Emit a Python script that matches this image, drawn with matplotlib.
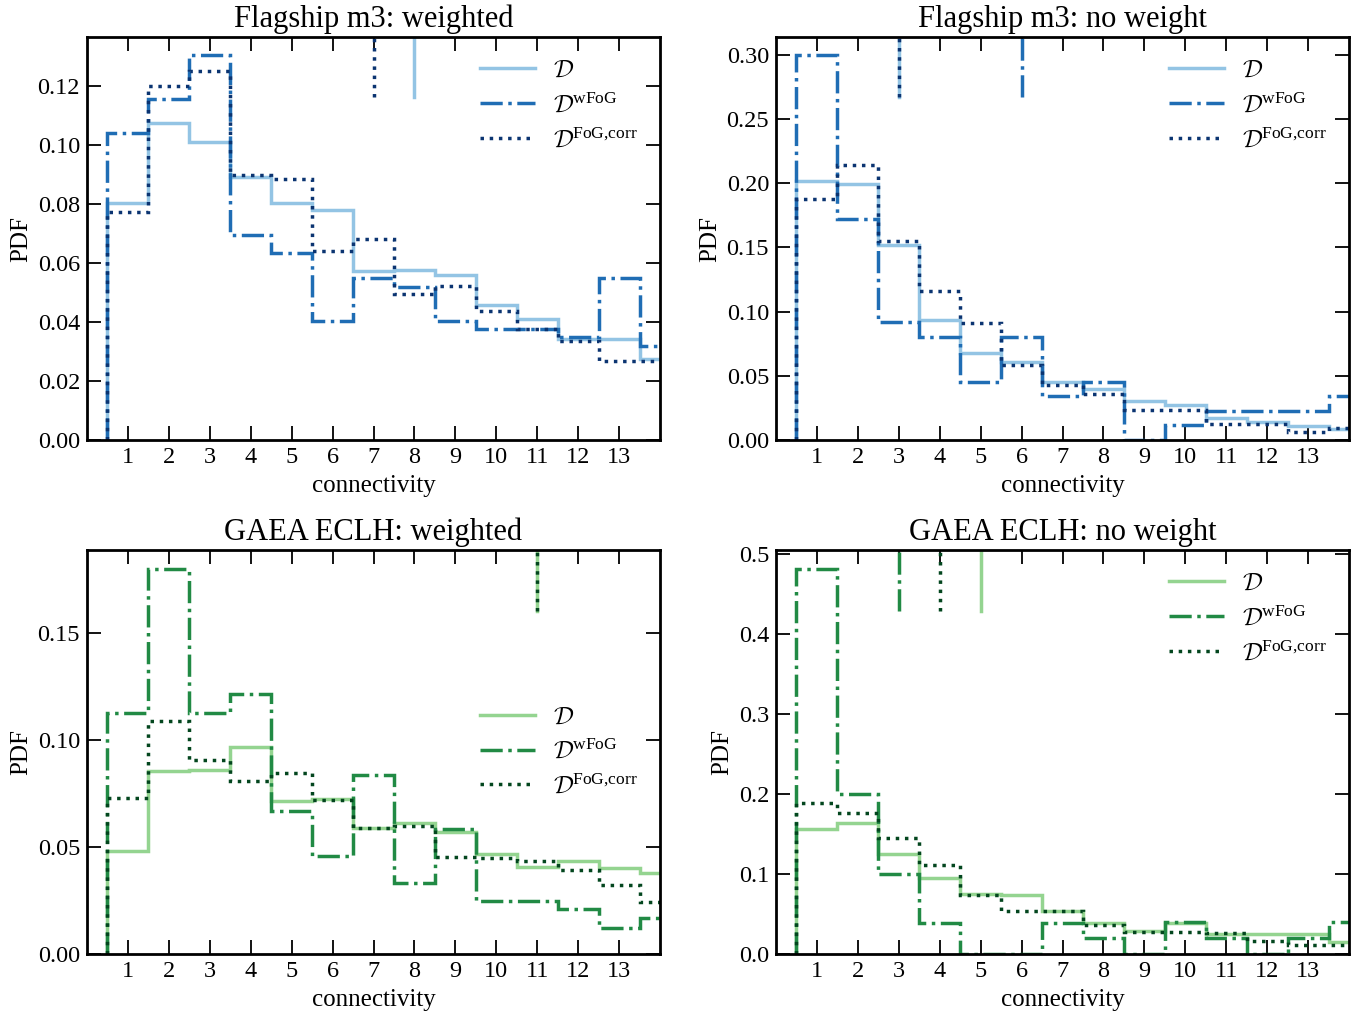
import matplotlib
matplotlib.use('Agg')
import matplotlib.pyplot as plt
from matplotlib.lines import Line2D
import numpy as np

plt.rcParams['font.family'] = 'serif'
plt.rcParams['font.serif'] = ['Liberation Serif', 'DejaVu Serif']
plt.rcParams['mathtext.fontset'] = 'custom'
plt.rcParams['mathtext.rm'] = 'Liberation Serif'
plt.rcParams['mathtext.it'] = 'Liberation Serif:italic'
plt.rcParams['mathtext.cal'] = 'cmsy10'

# bin centres (connectivity) and histogram values
conn = np.arange(1, 15)
edges = np.arange(0.5, 15.5, 1.0)

# Flagship m3: weighted
fs_w_D = [0.0802, 0.1076, 0.1011, 0.0893, 0.0802, 0.0780, 0.0574,
          0.0576, 0.0558, 0.0459, 0.0411, 0.0343, 0.0341, 0.0276]
fs_w_wfog = [0.1040, 0.1157, 0.1305, 0.0695, 0.0635, 0.0403, 0.0548,
             0.0520, 0.0403, 0.0375, 0.0375, 0.0348, 0.0548, 0.0319]
fs_w_corr = [0.0774, 0.1200, 0.1252, 0.0897, 0.0886, 0.0642, 0.0680,
             0.0495, 0.0522, 0.0437, 0.0375, 0.0337, 0.0268, 0.0269]

# Flagship m3: no weight
fs_n_D = [0.2021, 0.1995, 0.1517, 0.0935, 0.0675, 0.0610, 0.0455,
          0.0395, 0.0301, 0.0275, 0.0171, 0.0143, 0.0109, 0.0088]
fs_n_wfog = [0.3000, 0.1722, 0.0917, 0.0803, 0.0455, 0.0803, 0.0340,
             0.0455, 0.0, 0.0115, 0.0229, 0.0229, 0.0229, 0.0340]
fs_n_corr = [0.1878, 0.2143, 0.1548, 0.1161, 0.0909, 0.0584, 0.0429,
             0.0356, 0.0234, 0.0234, 0.0125, 0.0125, 0.0065, 0.0090]

# GAEA ECLH: weighted
ga_w_D = [0.0483, 0.0855, 0.0861, 0.0969, 0.0717, 0.0727, 0.0589,
          0.0611, 0.0573, 0.0467, 0.0409, 0.0437, 0.0402, 0.0378]
ga_w_wfog = [0.1128, 0.1803, 0.1128, 0.1214, 0.0670, 0.0458, 0.0839,
             0.0331, 0.0584, 0.0248, 0.0248, 0.0209, 0.0123, 0.0167]
ga_w_corr = [0.0730, 0.1089, 0.0909, 0.0811, 0.0845, 0.0722, 0.0589,
             0.0597, 0.0453, 0.0448, 0.0433, 0.0394, 0.0323, 0.0241]

# GAEA ECLH: no weight
ga_n_D = [0.1563, 0.1633, 0.1246, 0.0946, 0.0746, 0.0738, 0.0538,
          0.0392, 0.0288, 0.0383, 0.0246, 0.0246, 0.0246, 0.0146]
ga_n_wfog = [0.4808, 0.2000, 0.0996, 0.0392, 0.0, 0.0, 0.0392,
             0.0196, 0.0, 0.0396, 0.0196, 0.0, 0.0196, 0.0396]
ga_n_corr = [0.1892, 0.1758, 0.1454, 0.1113, 0.0738, 0.0542, 0.0542,
             0.0363, 0.0271, 0.0271, 0.0260, 0.0163, 0.0113, 0.0113]

# short markers at the top of each panel (D, wFoG, FoG corr); None = not shown
marks = [
    [8, None, 7],
    [3, 6, 3],
    [11, None, 11],
    [5, 3, 4],
]

titles = ['Flagship m3: weighted', 'Flagship m3: no weight',
          'GAEA ECLH: weighted', 'GAEA ECLH: no weight']
data = [
    (fs_w_D, fs_w_wfog, fs_w_corr),
    (fs_n_D, fs_n_wfog, fs_n_corr),
    (ga_w_D, ga_w_wfog, ga_w_corr),
    (ga_n_D, ga_n_wfog, ga_n_corr),
]
blues = ['#93c4e4', '#1f6db4', '#0b3471']
greens = ['#94d490', '#218a44', '#03461e']
palettes = [blues, blues, greens, greens]
styles = ['-', '-.', ':']
labels = [r'$\mathcal{D}$', r'$\mathcal{D}^{\rm wFoG}$', r'$\mathcal{D}^{\rm FoG{,}corr}$']
ylims = [0.1366, 0.314, 0.189, 0.505]
yticks = [np.arange(0, 0.13, 0.02), np.arange(0, 0.31, 0.05),
          np.arange(0, 0.16, 0.05), np.arange(0, 0.51, 0.1)]
yfmt = ['%.2f', '%.2f', '%.2f', '%.1f']
legend_loc = ['upper right', 'upper right', 'center right', 'upper right']

fig = plt.figure(figsize=(13.68, 10.14), dpi=100)
W, H = 1368, 1014
boxes = [(87, 37, 660, 440), (776, 37, 1349, 440),
         (87, 550, 660, 954), (776, 550, 1349, 954)]

for i in range(4):
    l, t, r, b = boxes[i]
    ax = fig.add_axes([l / W, 1 - b / H, (r - l) / W, (b - t) / H])
    cols = palettes[i]
    handles = []
    for j in range(3):
        ax.hist(conn, bins=edges, weights=data[i][j], histtype='step',
                color=cols[j], ls=styles[j], lw=2.5)
        handles.append(Line2D([], [], color=cols[j], ls=styles[j], lw=2.5,
                              label=labels[j]))
    for j in range(3):
        if marks[i][j] is not None:
            ax.axvline(marks[i][j], ymin=0.85, ymax=1, color=cols[j],
                       ls=styles[j], lw=2.5)
    ax.set_xlim(0, 14)
    ax.set_ylim(0, ylims[i])
    ax.set_xticks(np.arange(1, 14))
    ax.set_yticks(yticks[i])
    ax.set_yticklabels([yfmt[i] % v for v in yticks[i]])
    ax.tick_params(direction='in', top=True, right=True, length=10, width=1.3,
                   labelsize=17.5, pad=5)
    for s in ax.spines.values():
        s.set_linewidth(2)
    ax.set_title(titles[i], fontsize=22, pad=7)
    ax.set_xlabel('connectivity', fontsize=18, labelpad=5)
    ax.set_ylabel('PDF', fontsize=18, labelpad=4)
    ax.legend(handles=handles, loc=legend_loc[i], frameon=False, fontsize=18,
              handlelength=2.2, handletextpad=0.7, labelspacing=0.45,
              borderaxespad=0.5)

fig.savefig('out.png', dpi=100)
